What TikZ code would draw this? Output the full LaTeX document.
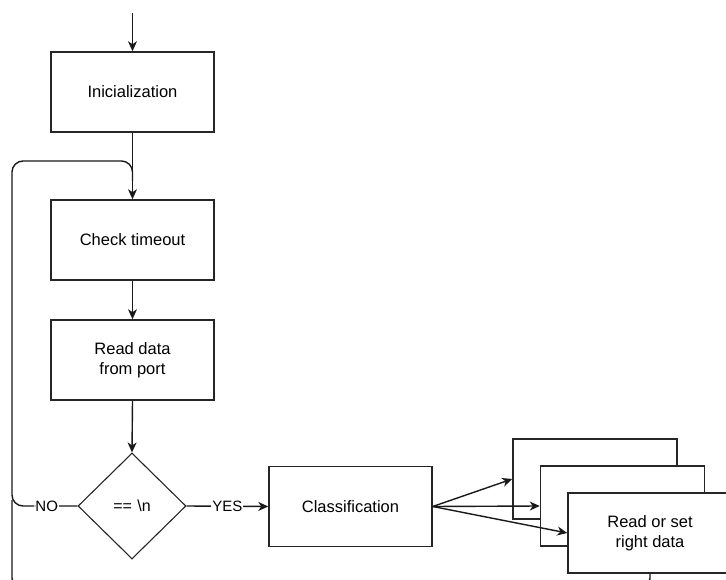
\documentclass[tikz,border=0pt]{standalone}
\usepackage{fontspec}
\setmainfont{Liberation Sans}
\usetikzlibrary{shapes.geometric,arrows.meta,calc}
\begin{document}
\begin{tikzpicture}[x=1pt,y=-1pt,
  box/.style={draw=black!85, line width=1.5pt, fill=white, minimum width=163pt, minimum height=80pt, inner sep=2pt, align=center, font=\fontsize{16.5}{20}\selectfont},
  dec/.style={draw=black!85, line width=1.1pt, shape=diamond, minimum width=108pt, minimum height=106pt, inner sep=0pt, font=\fontsize{16}{20}\selectfont},
  conn/.style={line width=1.4pt, draw=black!90},
  arr/.style={conn, -{Stealth[length=10pt,width=9pt,inset=3pt]}},
  lbl/.style={fill=white, inner sep=1pt, font=\fontsize{15}{18}\selectfont},
]
\useasboundingbox (0,0) rectangle (726,580);
\clip (0,0) rectangle (726,580);

\node[box] (init) at (132.5,92) {Inicialization};
\node[box] (check) at (132.5,240) {Check timeout};
\node[box] (read) at (132.5,360) {Read data\\from port};
\node[dec] (dia) at (132,506) {==\,\,\textbackslash n};
\node[box] (cls) at (350.5,506.5) {Classification};
\node[box, minimum width=164pt] (b1) at (595,479) {};
\node[box, minimum width=164pt] (b2) at (622.5,506) {};
\node[box, minimum width=164pt] (b3) at (650,533) {Read or set\\right data};

\coordinate (start) at (init.north |- 0,13);
\coordinate (tl) at (12,161);
\coordinate (tr) at (check.north |- tl);
\coordinate (bl) at (12,589);
\coordinate (br) at (b3.south |- bl);

\draw[arr] (start) -- (init.north);
\draw[arr] (init.south) -- (check.north);
\draw[arr] (check.south) -- (read.north);
\draw[arr] (read.south) -- (dia.north);
\draw[arr] (dia.east) -- node[lbl]{YES} (cls.west);
\draw[arr] (cls.east) -- (b1.west);
\draw[arr] (cls.east) -- (b2.west);
\draw[arr] (cls.east) -- (b3.west);

\draw[conn, rounded corners=11pt] (dia.west) -- node[lbl, pos=0.47]{NO} (12,506) -- (tl) -- (tr) -- ($(tr)+(0,20)$);
\draw[conn, rounded corners=11pt] (b3.south) -- (br) -- (bl) -- (12,500);
\end{tikzpicture}
\end{document}
